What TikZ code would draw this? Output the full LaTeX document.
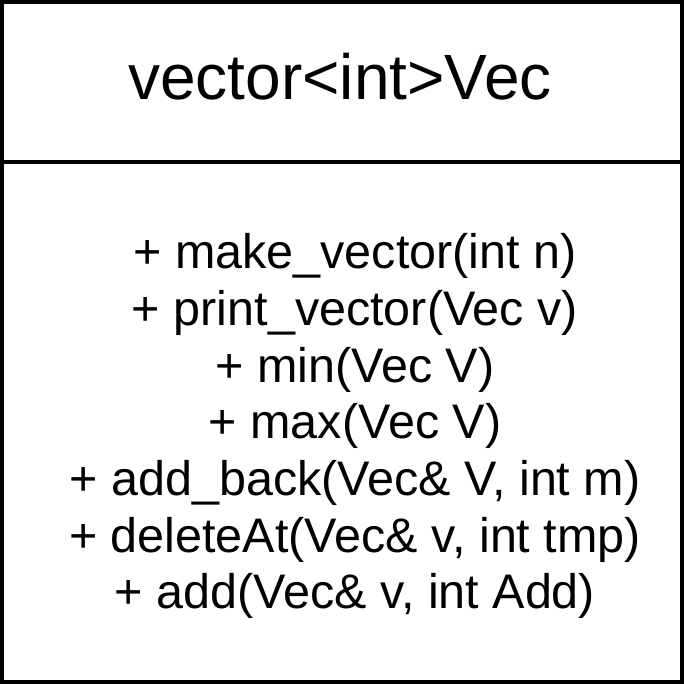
\documentclass[tikz,border=0pt]{standalone}
\usepackage{fontspec}
\setmainfont{Liberation Sans}
\begin{document}
\begin{tikzpicture}[x=1pt,y=-1pt,line width=4pt,line cap=butt,line join=miter,
	classname/.style={font=\fontsize{64}{76}\selectfont,anchor=base,inner sep=0pt},
	classop/.style={font=\fontsize{48.5}{56.7}\selectfont,anchor=base,inner sep=0pt}]
	\useasboundingbox (0,0) rectangle (684,684);
	\draw (2,2) rectangle (682,682);
	\draw (2,162) -- (682,162);
	\node[classname] (title) at (340,100) {vector<int>Vec};
	\foreach \n/\y/\t in {1/268/{+ make\_vector(int n)},
			2/325/{+ print\_vector(Vec v)},
			3/382/{+ min(Vec V)},
			4/438/{+ max(Vec V)},
			5/495/{+ add\_back(Vec\& V, int m)},
			6/552/{+ deleteAt(Vec\& v, int tmp)},
			7/608/{+ add(Vec\& v, int Add)}}{
		\node[classop] (op\n) at (355,\y) {\t};
	}
\end{tikzpicture}
\end{document}
